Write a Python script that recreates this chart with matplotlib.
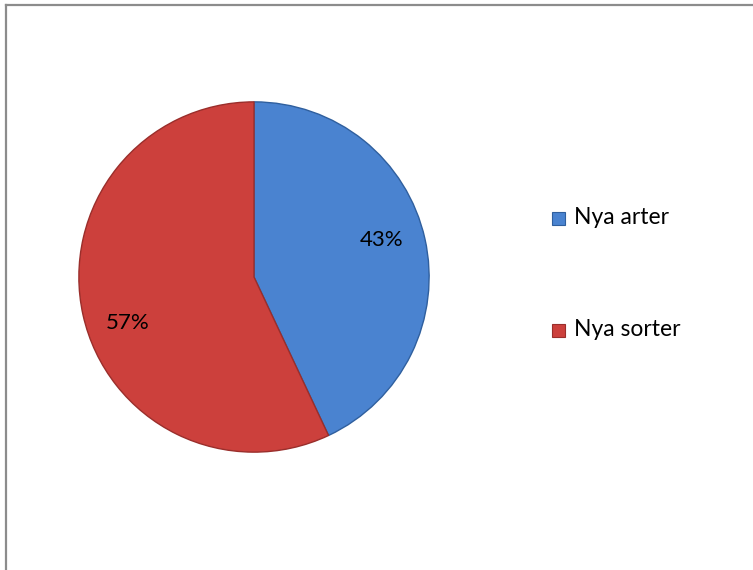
import matplotlib.pyplot as plt
from matplotlib.lines import Line2D
from matplotlib.patches import Rectangle

categories = ["Nya arter", "Nya sorter"]
shares = [43, 57]
colors = ["#4a83d0", "#cc403c"]
edge_colors = ["#2f5f9e", "#9a2e2b"]

W, H = 753, 570
fig = plt.figure(figsize=(W / 100, H / 100), dpi=100)
plt.rcParams["font.family"] = ["Lato", "DejaVu Sans"]

# grå ram uppe och till vänster
fig.add_artist(Line2D([5.5 / W, 5.5 / W], [0, 1 - 4.5 / H], color="#8c8c8c", lw=1.6))
fig.add_artist(Line2D([5.5 / W, 1], [1 - 4.5 / H, 1 - 4.5 / H], color="#8c8c8c", lw=1.6))

cx, cy, r = 254, H - 277, 176
ax = fig.add_axes([(cx - r) / W, (cy - r) / H, 2 * r / W, 2 * r / H])
wedges, texts, autotexts = ax.pie(
    shares, colors=colors, startangle=90, counterclock=False,
    autopct="%d%%", pctdistance=0.78, radius=1,
    wedgeprops=dict(linewidth=1.0),
    textprops=dict(fontsize=16, color="black"),
)
for w, ec in zip(wedges, edge_colors):
    w.set_edgecolor(ec)
# etiketterna lite förskjutna som i originalet
autotexts[0].set_position((0.73, 0.21))
autotexts[1].set_position((-0.72, -0.26))
ax.set_xlim(-1.005, 1.005)
ax.set_ylim(-1.005, 1.005)
ax.set_aspect("equal")
ax.axis("off")

# legend
for label, col, ec, ypix in zip(categories, colors, edge_colors, [218, 330]):
    fig.add_artist(Rectangle(((552) / W, (H - ypix - 6.5) / H), 13 / W, 13 / H,
                             facecolor=col, edgecolor=ec, lw=0.8))
    fig.text(574 / W, (H - ypix) / H, label, fontsize=16.5, va="center", ha="left")

fig.savefig("out.png", dpi=100)
